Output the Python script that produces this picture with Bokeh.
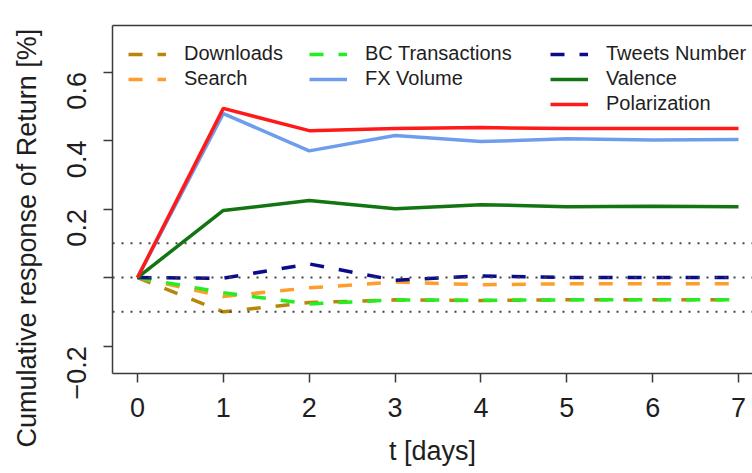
import math
from bokeh.plotting import figure
from bokeh.models import (Span, Legend, LegendItem, LinearAxis, FixedTicker,
                          Title, Range1d)
from bokeh.embed import file_html
from bokeh.resources import INLINE

# ---- data ----
days = [0, 1, 2, 3, 4, 5, 6, 7]
downloads = [0, -0.100, -0.073, -0.065, -0.067, -0.065, -0.065, -0.065]
search = [0, -0.055, -0.030, -0.013, -0.021, -0.018, -0.018, -0.018]
bc_transactions = [0, -0.044, -0.077, -0.065, -0.066, -0.065, -0.065, -0.065]
fx_volume = [0, 0.479, 0.370, 0.415, 0.397, 0.405, 0.402, 0.403]
tweets_number = [0, -0.002, 0.040, -0.008, 0.005, 0.000, 0.000, 0.000]
valence = [0, 0.196, 0.225, 0.201, 0.213, 0.207, 0.208, 0.207]
polarization = [0, 0.494, 0.429, 0.435, 0.438, 0.435, 0.435, 0.435]

ref_levels = [-0.1, 0.0, 0.1]
x_ticks = [0, 1, 2, 3, 4, 5, 6, 7]
y_ticks = [-0.2, 0.0, 0.2, 0.4, 0.6]
y_tick_labels = ["\u22120.2", "", "0.2", "0.4", "0.6"]

FONT = "Liberation Sans"
TXT = "#1e1e1e"
AX = "#3a3a3a"

W, H = 752, 473
p = figure(width=W, height=H, output_backend="svg", toolbar_location=None,
           x_range=Range1d(-0.291, 7.163), y_range=Range1d(-0.280, 0.736),
           min_border_left=111, min_border_right=0, min_border_top=25,
           min_border_bottom=100)
p.xgrid.visible = False
p.ygrid.visible = False
p.outline_line_color = None
p.background_fill_color = "white"
p.border_fill_color = "white"

# axes
for ax in (p.xaxis[0], p.yaxis[0]):
    ax.axis_line_color = AX
    ax.axis_line_width = 1.5
    ax.major_tick_line_color = AX
    ax.major_tick_line_width = 1.5
    ax.major_tick_in = 0
    ax.major_tick_out = 9
    ax.minor_tick_line_color = None
    ax.major_label_text_font = FONT
    ax.major_label_text_font_size = "27px"
    ax.major_label_text_color = TXT

p.xaxis.ticker = FixedTicker(ticks=x_ticks)
p.xaxis.major_label_standoff = 15
p.xaxis.axis_label = "t [days]"
p.xaxis.axis_label_text_font = FONT
p.xaxis.axis_label_text_font_size = "27px"
p.xaxis.axis_label_text_font_style = "normal"
p.xaxis.axis_label_text_color = TXT
p.xaxis.axis_label_standoff = 16

p.yaxis.ticker = FixedTicker(ticks=y_ticks)
p.yaxis.major_label_overrides = {t: s for t, s in zip(y_ticks, y_tick_labels)}
p.yaxis.major_label_orientation = math.pi / 2
p.yaxis.major_label_standoff = 27

top = LinearAxis(ticker=FixedTicker(ticks=[]), major_label_text_font_size="0px",
                 major_tick_out=0, major_tick_in=0, minor_tick_out=0,
                 minor_tick_in=0, axis_line_color=AX, axis_line_width=1.5)
p.add_layout(top, "above")

# reference dotted lines
for lvl in ref_levels:
    p.add_layout(Span(location=lvl, dimension="width", line_color="#444444",
                      line_width=2, line_dash="2 7"))

series = [
    ("Downloads", downloads, "#B8860B", "14 15", 3.5),
    ("Search", search, "#FF9D2A", "14 15", 3.5),
    ("BC Transactions", bc_transactions, "#22EE22", "14 15", 3.5),
    ("FX Volume", fx_volume, "#6F9DEE", None, 3.5),
    ("Tweets Number", tweets_number, "#0B0B8C", "14 15", 3.5),
    ("Valence", valence, "#127512", None, 3.5),
    ("Polarization", polarization, "#FF1A1A", None, 3.5),
]
renderers = {}
for name, vals, col, dash, lw in series:
    kw = dict(line_color=col, line_width=lw)
    if dash:
        kw["line_dash"] = dash
    renderers[name] = p.line(days, vals, **kw)


def add_legend(names, x, y):
    items = [LegendItem(label=n, renderers=[renderers[n]]) for n in names]
    lg = Legend(items=items, location=(x, y), orientation="vertical",
                label_text_font=FONT, label_text_font_size="20px",
                label_text_color=TXT, glyph_width=38, glyph_height=20,
                label_height=20, label_standoff=18, spacing=2, padding=0,
                margin=0, border_line_color=None, background_fill_alpha=0)
    p.add_layout(lg, "center")


add_legend(["Downloads", "Search"], 16, 283)
add_legend(["BC Transactions", "FX Volume"], 197, 283)
add_legend(["Tweets Number", "Valence", "Polarization"], 438, 258)

# y axis title
p.add_layout(Title(text="Cumulative response of Return [%]", align="left",
                   vertical_align="top", offset=-74, text_font=FONT,
                   text_font_size="27px", text_font_style="normal",
                   text_color=TXT, standoff=22),
             "left")

open("out.html", "w").write(file_html(p, INLINE))
